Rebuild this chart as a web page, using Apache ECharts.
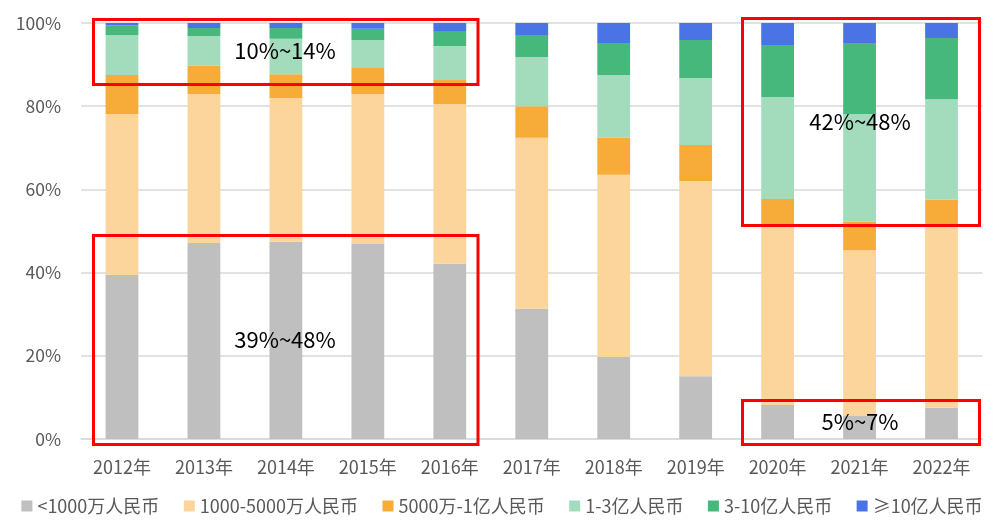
<!DOCTYPE html>
<html>
<head>
<meta charset="utf-8">
<script src="https://cdn.jsdelivr.net/npm/echarts@6/dist/echarts.min.js"></script>
<style>
html,body{margin:0;padding:0;background:#fff;}
#chart{width:1004px;height:532px;}
</style>
</head>
<body>
<div id="chart"></div>
<script>
const categories = ['2012年','2013年','2014年','2015年','2016年','2017年','2018年','2019年','2020年','2021年','2022年'];
const seriesNames = ['<1000万人民币','1000-5000万人民币','5000万-1亿人民币','1-3亿人民币','3-10亿人民币','≥10亿人民币'];
const below10m   = [39.4, 47.1, 47.4, 46.9, 42.1, 31.3, 19.7, 15.1, 8.2, 5.5, 7.5];
const m10to50    = [38.7, 35.8, 34.6, 36.0, 38.4, 41.1, 43.8, 46.9, 43.0, 39.9, 43.7];
const m50to100   = [9.4, 6.8, 5.7, 6.3, 5.8, 7.6, 8.9, 8.7, 6.5, 6.8, 6.3];
const b1to3      = [9.6, 7.2, 8.5, 6.7, 8.2, 11.8, 15.1, 16.1, 24.5, 25.9, 24.2];
const b3to10     = [2.3, 1.9, 2.6, 2.7, 3.6, 5.3, 7.7, 9.1, 12.5, 16.9, 14.7];
const above10b   = [0.6, 1.2, 1.2, 1.4, 1.9, 2.9, 4.8, 4.1, 5.3, 5.0, 3.6];
const yTicks = [0, 20, 40, 60, 80, 100];
const annotationTexts = ['10%~14%', '42%~48%', '39%~48%', '5%~7%'];

const colors = ['#BFBFBF','#FBD59B','#F7AB38','#A3DCBD','#46B87B','#4A74E6'];
const values = [below10m, m10to50, m50to100, b1to3, b3to10, above10b];
const FONT = '"Noto Sans CJK SC", "Noto Sans", sans-serif';

const chart = echarts.init(document.getElementById('chart'), null, {renderer:'canvas'});

const boxes = [
  {x:93.5, y:19.5, w:384.5, h:65},
  {x:742.5, y:18.5, w:237, h:207},
  {x:93.5, y:235.5, w:384.5, h:209},
  {x:742.5, y:400.5, w:237, h:44}
];
const labelPos = [[285,51],[860,122],[285,340],[860,422]];

const graphics = [];
boxes.forEach(b => graphics.push({
  type:'rect', z:100,
  shape:{x:b.x, y:b.y, width:b.w, height:b.h},
  style:{fill:'none', stroke:'#FF0000', lineWidth:3}
}));
annotationTexts.forEach((t,i) => graphics.push({
  type:'text', z:101,
  x:labelPos[i][0], y:labelPos[i][1],
  style:{text:t, fill:'#000', font:'22px ' + FONT, textAlign:'center', textVerticalAlign:'middle'}
}));

chart.setOption({
  animation:false,
  color: colors,
  grid:{left:81, right:21.5, top:23, bottom:93, containLabel:false},
  legend:{
    bottom:12, left:'center',
    itemWidth:11, itemHeight:11, itemGap:24.5,
    icon:'rect',
    textStyle:{fontSize:18, color:'#595959', fontFamily:FONT},
    data: seriesNames
  },
  xAxis:{
    type:'category', data:categories,
    axisLine:{show:true, lineStyle:{color:'#D9D9D9', width:1.5}},
    axisTick:{show:false},
    axisLabel:{fontSize:18, color:'#595959', fontFamily:FONT, margin:19}
  },
  yAxis:{
    type:'value', min:0, max:100, interval:20,
    axisLine:{show:false}, axisTick:{show:false},
    axisLabel:{fontSize:17.5, color:'#595959', fontFamily:FONT, margin:20,
      formatter: v => yTicks.includes(v) ? v + '%' : ''},
    splitLine:{lineStyle:{color:'#D9D9D9', width:1.5}}
  },
  series: seriesNames.map((n,i) => ({
    name:n, type:'bar', stack:'total', barWidth:'40%',
    data: values[i],
    itemStyle:{color:colors[i]}
  })),
  graphic: graphics
});
</script>
</body>
</html>
